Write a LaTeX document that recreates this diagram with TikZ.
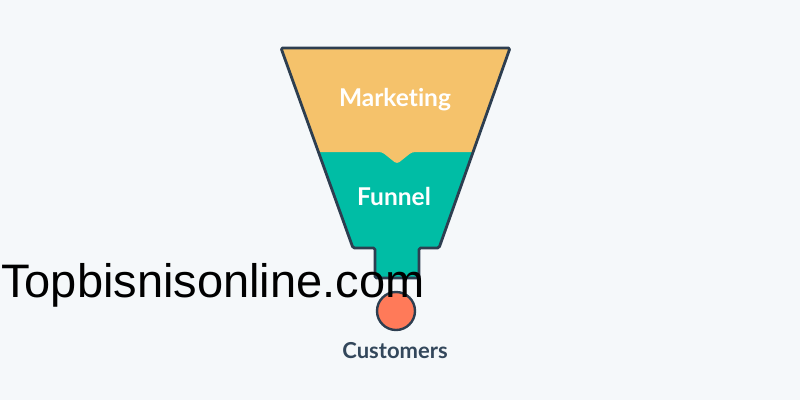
\documentclass[tikz,border=0pt]{standalone}
\usepackage{fontspec}
\setmainfont{Liberation Sans}
\newfontfamily\labelfont[Ligatures={NoCommon,NoRare,NoDiscretionary}]{Lato}
\definecolor{bgc}{HTML}{F5F8FA}
\definecolor{orangec}{HTML}{F5C26B}
\definecolor{tealc}{HTML}{00BDA5}
\definecolor{coralc}{HTML}{FF7A59}
\definecolor{outlinec}{HTML}{2D3E50}
\definecolor{slatec}{HTML}{33475B}
\tikzset{
  funnellabel/.style={text=white, font=\labelfont\bfseries\fontsize{24.5}{26}\selectfont, inner sep=0pt},
  outline/.style={draw=outlinec, line width=2.8pt, line join=round},
}
\begin{document}
\begin{tikzpicture}[x=1pt,y=-1pt]
\fill[bgc] (0,0) rectangle (800,400);
\useasboundingbox (0,0) rectangle (800,400);
% funnel body
\def\funnelpath{(281,48) -- (510,48) -- (439,248) -- (419,248) -- (419,278) -- (375,278) -- (375,248) -- (353,248) -- cycle}
\fill[tealc] \funnelpath;
\begin{scope}
\clip \funnelpath;
\fill[orangec, rounded corners=3pt] (270,40) -- (525,40) -- (525,152) -- (412,152) -- (397,164) -- (382,152) -- (270,152) -- cycle;
\end{scope}
\draw[outline, rounded corners=1.5pt] \funnelpath;
% customer circle
\node[circle, fill=coralc, draw=outlinec, line width=2.4pt, minimum size=38pt, inner sep=0pt] (cust) at (396,311) {};
% labels
\node[funnellabel] (mkt) at (395,100) {Marketing};
\node[funnellabel] (fun) at (394,196) {Funnel};
\node[text=slatec, font=\labelfont\bfseries\fontsize{22}{24}\selectfont, inner sep=0pt] (custlabel) at (395,351) {Customers};
% watermark
\node[anchor=base west, inner sep=0pt, font=\fontsize{47}{50}\selectfont, text=black] (wm) at (1,297) {Topbisnisonline.com};
\end{tikzpicture}
\end{document}
